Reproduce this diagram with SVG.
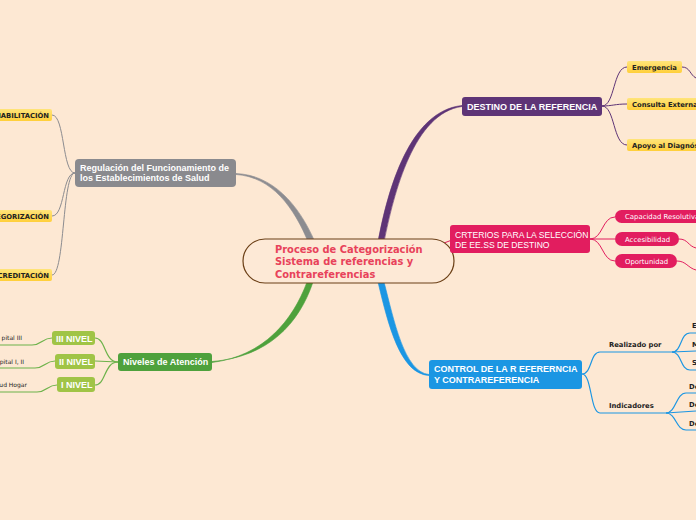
<svg xmlns="http://www.w3.org/2000/svg" width="696" height="520" viewBox="0 0 696 520">
<defs>
<linearGradient id="yg" x1="0" y1="0" x2="0" y2="1"><stop offset="0" stop-color="#ffe47a"/><stop offset="1" stop-color="#ffcf3a"/></linearGradient>
<style>
.bg{fill:#fde8d3}
.yl{fill:url(#yg)}
.yt{font-family:"DejaVu Sans",Verdana,sans-serif;font-weight:bold;font-size:6.8px;fill:#222}
.sm{font-family:"DejaVu Sans",Verdana,sans-serif;font-size:6px;fill:#222}
.bt{font-family:"Liberation Sans",Arial,sans-serif;font-weight:bold;font-size:9px;fill:#fff}
.pt{font-family:"DejaVu Sans",Verdana,sans-serif;font-size:6.9px;fill:#fff}
.lb{font-family:"DejaVu Sans",Verdana,sans-serif;font-weight:bold;font-size:6.8px;fill:#222}
.c{fill:none}
.gray{stroke:#8c8c90}
.green{stroke:#4ea13c}
.lgreen{stroke:#6cb24a}
.purple{stroke:#5e3476}
.pink{stroke:#e21d5f}
.blue{stroke:#1b96e3}
</style>
</defs>
<rect class="bg" x="0" y="0" width="696" height="520"/>
<g id="connectors" class="c">
<path fill="#8c8c90" stroke="#8c8c90" stroke-width="0.6" d="M236,173.5 C272,175 298,203 315,242 L309,244 C294,207 272,177 236,174.5 Z"/>
<path fill="#4ea13c" stroke="#4ea13c" stroke-width="0.6" d="M313,282 C299,324 268,357 212,361.5 L212,362.5 C264,356 293,320 307,282 Z"/>
<path fill="#5e3476" stroke="#5e3476" stroke-width="0.6" d="M378,242 C388,188 410,111 462,105.5 L462,106.5 C414,113 394,192 384,242 Z"/>
<path fill="#1b96e3" stroke="#1b96e3" stroke-width="0.6" d="M378,282 C388,324 400,374 429,375.5 L429,374.5 C404,372 394,320 384,282 Z"/>
<path class="pink" stroke-width="1" d="M444,243 L452,240"/>
<g stroke-width="1" class="gray">
<path d="M75,173 C62,173 65,115 52,115"/>
<path d="M75,173 C62,173 65,216 52,216"/>
<path d="M75,173 C62,173 65,275 52,275"/>
</g>
<g stroke-width="1.2" class="lgreen">
<path d="M118,362 C104,362 106,338 95,338"/>
<path d="M118,362 L95,361"/>
<path d="M118,362 C104,362 106,385 95,385"/>
<path d="M52,338 C42,338 42,345 32,345 L0,345"/>
<path d="M55,361 C45,361 45,368 35,368 L0,368"/>
<path d="M57,385 C47,385 47,392 37,392 L0,392"/>
</g>
<g stroke-width="1" class="purple">
<path d="M602,106 C615,106 613,67 627,67"/>
<path d="M602,106 C612,106 615,104 627,104"/>
<path d="M602,106 C615,106 613,145 627,145"/>
<path d="M682,67 C690,67 690,75 696,78"/>
</g>
<g stroke-width="1" class="pink">
<path d="M590,239 C603,239 602,217 615,217"/>
<path d="M590,239 L615,239"/>
<path d="M590,239 C603,239 602,261 615,261"/>
<path d="M679,239 C688,239 688,246 696,248"/>
<path d="M677,261 C686,261 688,268 696,270"/>
</g>
<g stroke-width="1.2" class="blue">
<path d="M582,374 C592,374 590,352 600,352 L672,352"/>
<path d="M582,374 C592,374 590,413 600,413 L666,413"/>
<path d="M672,352 C682,352 680,333 690,333 L696,333"/>
<path d="M672,352 L696,351"/>
<path d="M672,352 C682,352 680,370 690,370 L696,370"/>
<path d="M666,413 C676,413 676,393 686,393 L696,393"/>
<path d="M666,413 L696,411"/>
<path d="M666,413 C676,413 676,430 686,430 L696,430"/>
</g>
</g>
<g id="central">
<rect x="243" y="239" width="211" height="44" rx="22" fill="#fde9d6" stroke="#6b3f16" stroke-width="1.2"/>
<text font-family="'DejaVu Sans',Verdana,sans-serif" font-weight="bold" font-size="9.9" fill="#e8425a"><tspan x="275" y="252.5">Proceso de Categorización</tspan><tspan x="275" y="265">Sistema de referencias y</tspan><tspan x="275" y="277.5">Contrareferencias</tspan></text>
</g>
<g id="regulacion">
<rect x="75" y="159" width="161" height="28" rx="4" fill="#8a8a8e"/>
<text class="bt"><tspan x="80" y="171">Regulación del Funcionamiento de</tspan><tspan x="80" y="181">los Establecimientos de Salud</tspan></text>
</g>
<g id="habilitacion"><rect class="yl" x="-10" y="109" width="62" height="12" rx="2"/><text class="yt" x="49" y="117.5" text-anchor="end">HABILITACIÓN</text></g>
<g id="categorizacion"><rect class="yl" x="-10" y="210" width="62" height="12" rx="2"/><text class="yt" x="49" y="218.5" text-anchor="end">EGORIZACIÓN</text></g>
<g id="acreditacion"><rect class="yl" x="-10" y="269" width="62" height="12" rx="2"/><text class="yt" x="49" y="277.5" text-anchor="end">CREDITACIÓN</text></g>
<g id="niveles">
<rect x="118" y="353" width="94" height="18" rx="3" fill="#4ea13c"/>
<text class="bt" x="123" y="365">Niveles de Atención</text>
</g>
<g id="nivel3"><rect x="52" y="331" width="43" height="14" rx="3" fill="#a0c446"/><text class="bt" x="56" y="341.5" font-size="9.5">III NIVEL</text></g>
<g id="nivel2"><rect x="55" y="354" width="40" height="15" rx="3" fill="#a0c446"/><text class="bt" x="59" y="365" font-size="9.5">II NIVEL</text></g>
<g id="nivel1"><rect x="57" y="377" width="38" height="15" rx="3" fill="#a0c446"/><text class="bt" x="61" y="388" font-size="9.5">I NIVEL</text></g>
<g id="hospital3"><text class="sm" x="22" y="340" text-anchor="end">pital III</text></g>
<g id="hospital12"><text class="sm" x="24" y="364" text-anchor="end">pital I, II</text></g>
<g id="salud-hogar"><text class="sm" x="27" y="387" text-anchor="end">ud Hogar</text></g>
<g id="destino">
<rect x="462" y="97" width="140" height="19" rx="3" fill="#5e3476"/>
<text class="bt" x="467" y="109.5">DESTINO DE LA REFERENCIA</text>
</g>
<g id="emergencia"><rect class="yl" x="627" y="61" width="55" height="12" rx="2"/><text class="yt" x="632" y="69.5">Emergencia</text></g>
<g id="consulta"><rect class="yl" x="627" y="98" width="75" height="12" rx="2"/><text class="yt" x="632" y="106.5">Consulta Externa</text></g>
<g id="apoyo"><rect class="yl" x="627" y="139" width="75" height="12" rx="2"/><text class="yt" x="632" y="147.5">Apoyo al Diagnóstico</text></g>
<g id="criterios">
<rect x="450" y="225" width="140" height="28" rx="3" fill="#e21d5f"/>
<text font-family="'Liberation Sans',Arial,sans-serif" font-size="8.6" fill="#fff"><tspan x="455" y="237.5">CRTERIOS PARA LA SELECCIÓN</tspan><tspan x="455" y="247.5">DE EE.SS DE DESTINO</tspan></text>
</g>
<g id="capacidad"><rect x="615" y="210" width="95" height="13" rx="6.5" fill="#e21d5f"/><text class="pt" x="625" y="219">Capacidad Resolutiva</text></g>
<g id="accesibilidad"><rect x="615" y="232" width="64" height="14" rx="7" fill="#e21d5f"/><text class="pt" x="625" y="241.5">Accesibilidad</text></g>
<g id="oportunidad"><rect x="615" y="254" width="62" height="14" rx="7" fill="#e21d5f"/><text class="pt" x="625" y="263.5">Oportunidad</text></g>
<g id="control">
<rect x="429" y="360" width="153" height="29" rx="3" fill="#1b96e3"/>
<text class="bt"><tspan x="434" y="372">CONTROL DE LA R EFERERNCIA</tspan><tspan x="434" y="383">Y CONTRAREFERENCIA</tspan></text>
</g>
<g id="realizado"><text class="lb" x="609" y="347">Realizado por</text></g>
<g id="indicadores"><text class="lb" x="609" y="408">Indicadores</text></g>
<g id="r-e"><text class="lb" x="692" y="328">E</text></g>
<g id="r-m"><text class="lb" x="692" y="347">M</text></g>
<g id="r-s"><text class="lb" x="692" y="365">S</text></g>
<g id="i-de1"><text class="lb" x="689" y="389">De</text></g>
<g id="i-de2"><text class="lb" x="689" y="407">De</text></g>
<g id="i-de3"><text class="lb" x="689" y="426">De</text></g>
</svg>
